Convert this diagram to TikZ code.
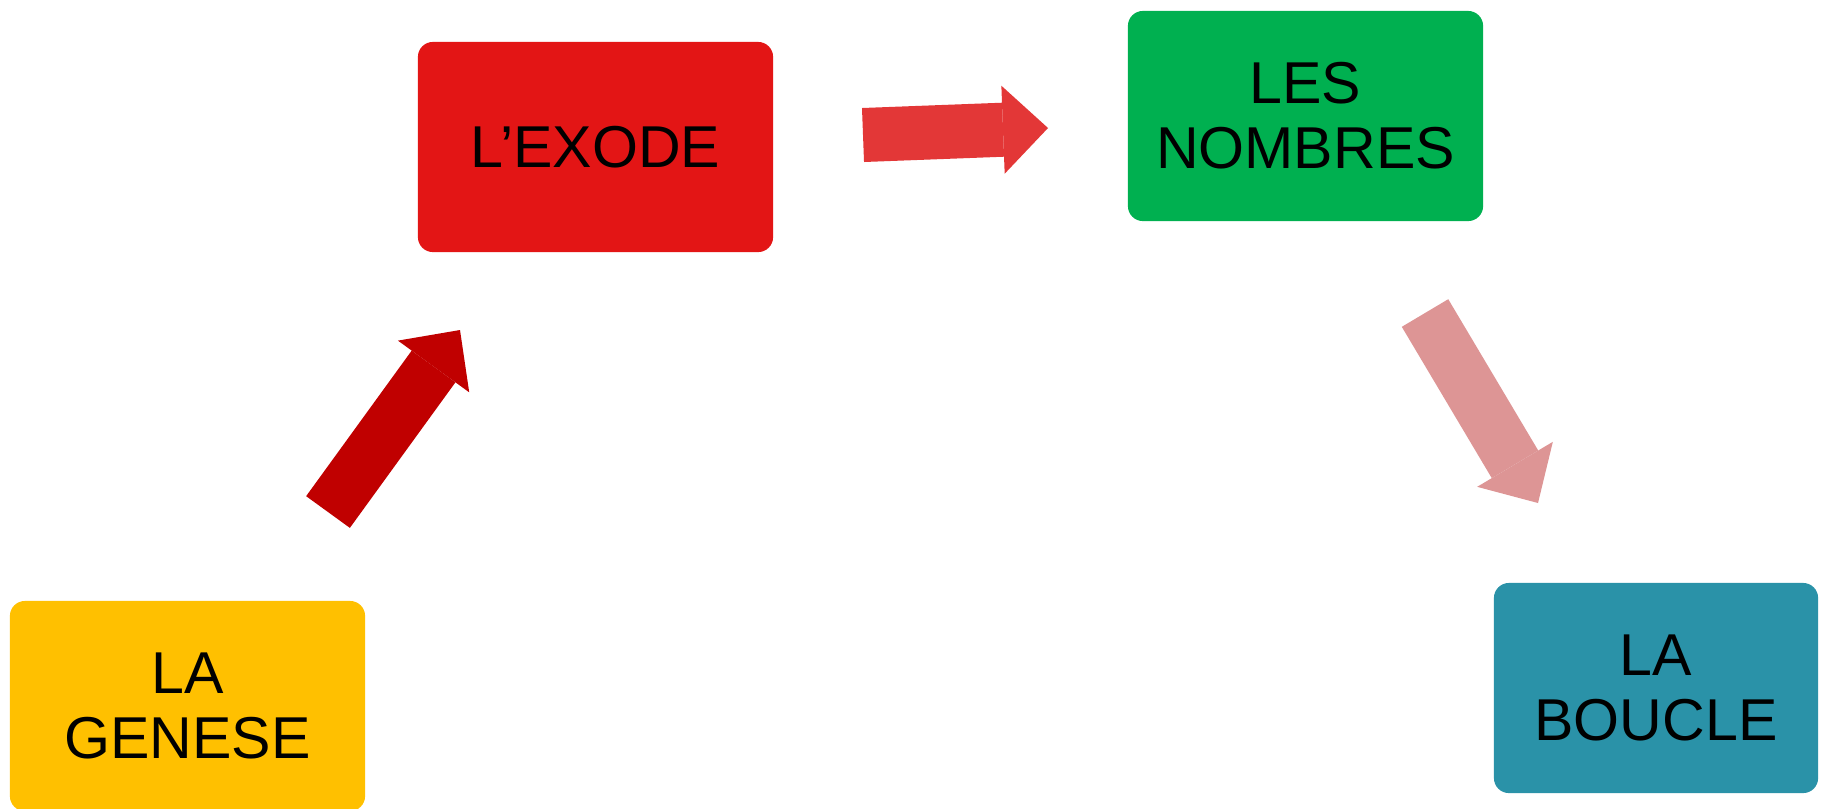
\documentclass[tikz,border=0pt]{standalone}
\usepackage{fontspec}
\setmainfont{Liberation Sans}
\usetikzlibrary{arrows.meta}

\definecolor{genese}{HTML}{FFC000}
\definecolor{exode}{HTML}{E31515}
\definecolor{nombres}{HTML}{00B050}
\definecolor{boucle}{HTML}{2A92A8}
\definecolor{fleche_a}{HTML}{C00000}
\definecolor{fleche_b}{HTML}{E33737}
\definecolor{fleche_c}{HTML}{DD9595}

\begin{document}
\begin{tikzpicture}[x = 0.01cm, y = -0.01cm,
        livre/.style = {rounded corners = 0.15cm, minimum width = 3.55cm, minimum height = 2.1cm,
            inner sep = 0pt, align = center, text = black, font = \fontsize{16.8}{18.5}\selectfont},
        fleche/.style = {line width = 0.54cm, -{Triangle[length = 0.45cm, width = 0.88cm, line width = 0pt]}}]
            \useasboundingbox (0, 0) rectangle (1822, 808);
            \clip (0, 0) rectangle (1822, 808);
            \fill[white] (0, 0) rectangle (1822, 808);

            \node[livre, fill = genese] (genese) at (187.5, 706) {LA\\GENESE};
            \node[livre, fill = exode] (exode) at (595.5, 147) {L’EXODE};
            \node[livre, fill = nombres] (nombres) at (1305.5, 116) {LES\\NOMBRES};
            \node[livre, fill = boucle, minimum width = 3.24cm] (boucle) at (1656, 688) {LA\\BOUCLE};

            \coordinate (a_debut) at (328, 512);
            \coordinate (a_fin) at (460, 330);
            \coordinate (b_debut) at (863, 135);
            \coordinate (b_fin) at (1048, 128);
            \coordinate (c_debut) at (1425, 313);
            \coordinate (c_fin) at (1538, 503);

            \draw[fleche, fleche_a] (a_debut) -- (a_fin);
            \draw[fleche, fleche_b] (b_debut) -- (b_fin);
            \draw[fleche, fleche_c] (c_debut) -- (c_fin);
        \end{tikzpicture}
\end{document}
